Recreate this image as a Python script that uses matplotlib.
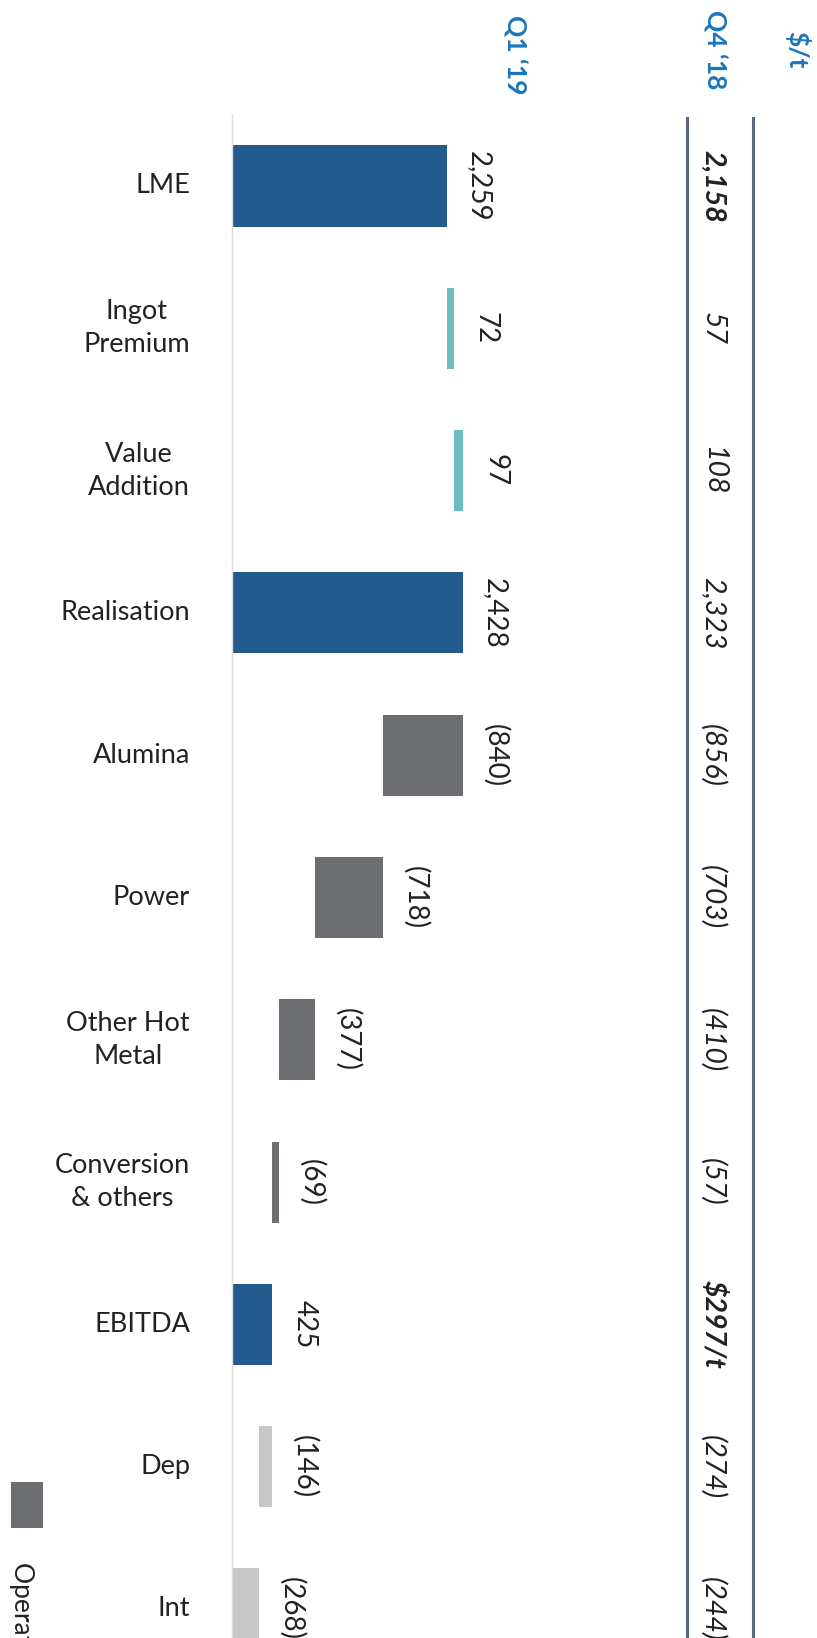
import matplotlib.pyplot as plt

# waterfall data, Q1 '19 ($/t)
categories = ["LME", "Ingot\nPremium", "Value\nAddition", "Realisation", "Alumina",
              "Power", "Other Hot\nMetal", "Conversion\n& others", "EBITDA", "Dep", "Int"]
values = [2259, 72, 97, 2428, -840, -718, -377, -69, 425, -146, -268]
kinds = ["total", "add", "add", "total", "cost", "cost", "cost", "cost", "total", "below", "below"]
value_labels = ["2,259", "72", "97", "2,428", "(840)", "(718)", "(377)", "(69)", "425", "(146)", "(268)"]
prev_labels = ["2,158", "57", "108", "2,323", "(856)", "(703)", "(410)", "(57)", "$297/t", "(274)", "(244)"]
prev_bold = [True, False, False, False, False, False, False, False, True, False, False]

colors = {"total": "#255A8E", "add": "#6CBEC2", "cost": "#6D6E72", "below": "#C7C7C7"}
head_blue = "#1B75BC"
line_col = "#5B6782"

plt.rcParams['font.family'] = ['Lato', 'DejaVu Sans']

fig = plt.figure(figsize=(8.17, 16.38), dpi=100)
ax = fig.add_axes([0, 0, 1, 1])
ax.set_xlim(-2437, 6145)
ax.set_ylim(10.204, -1.307)
ax.axis("off")

# running bases for the waterfall
level = 0
for i, (cat, v, k) in enumerate(zip(categories, values, kinds)):
    if k == "total":
        left, width = 0, v
        level = v
    else:
        left = level if v > 0 else level + v
        width = abs(v)
        level += v
    ax.barh(i, width, left=left, height=0.57, color=colors[k])
    ax.text(left + width + 200, i, value_labels[i], rotation=270, ha="left", va="center",
            fontsize=20, color="#222222")
    ax.text(-441, i, cat, ha="right", va="center", fontsize=19.5, color="#222222",
            multialignment="center", linespacing=1.4)
    ax.text(5052, i, prev_labels[i], rotation=270, ha="center", va="center", fontsize=20.5,
            style="italic", fontweight="bold" if prev_bold[i] else "normal", color="#222222")

# baseline and table rules
ax.plot([0, 0], [-0.5, 10.3], color="#DDDDDD", lw=1)
ax.plot([4779, 4779], [-0.48, 10.3], color=line_col, lw=2.2)
ax.plot([5472, 5472], [-0.48, 10.3], color=line_col, lw=2.2)

# column headers
ax.text(2972, -0.92, "Q1 \u201819", rotation=270, ha="center", va="center", fontsize=19,
        fontweight="bold", color=head_blue)
ax.text(5073, -0.96, "Q4 \u201818", rotation=270, ha="center", va="center", fontsize=19,
        fontweight="bold", color=head_blue)
ax.text(5935, -0.96, "$/t", rotation=270, ha="center", va="center", fontsize=19,
        fontweight="bold", color=head_blue)

# legend, cut off at the bottom edge
ax.barh(9.27, 336, left=-2321, height=0.32, color=colors["cost"])
ax.text(-2206, 9.67, "Operating Costs", rotation=270, ha="center", va="top", fontsize=19,
        color="#222222")

fig.savefig("out.png", dpi=100)
